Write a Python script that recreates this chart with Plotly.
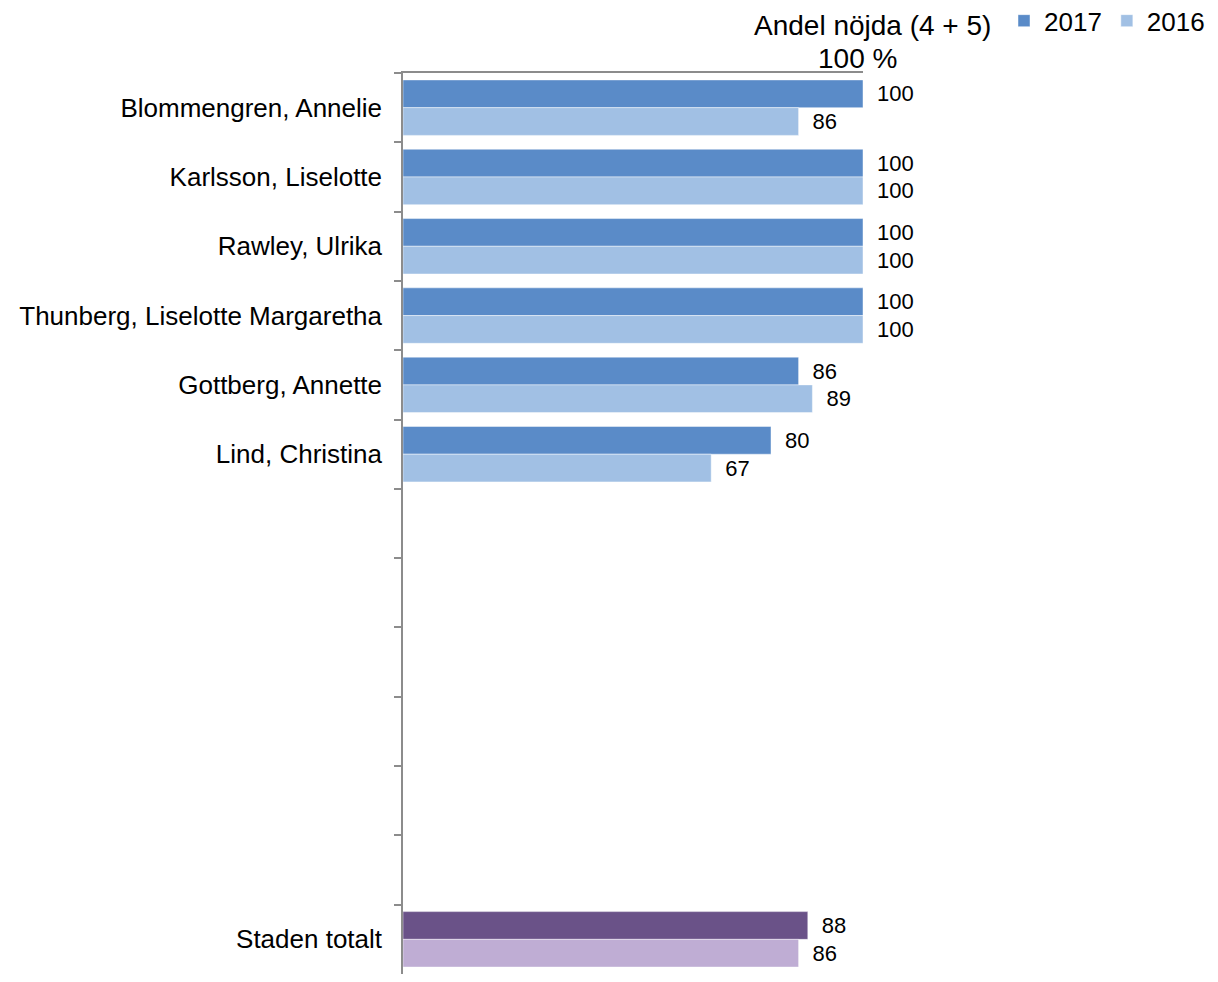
import plotly.graph_objects as go

categories = [
    "Blommengren, Annelie",
    "Karlsson, Liselotte",
    "Rawley, Ulrika",
    "Thunberg, Liselotte Margaretha",
    "Gottberg, Annette",
    "Lind, Christina",
    " ", "  ", "   ", "    ", "     ", "      ",
    "Staden totalt",
]
names = [c for c in categories if c.strip()]
values_2017 = [100, 100, 100, 100, 86, 80, 88]
values_2016 = [86, 100, 100, 100, 89, 67, 86]

blue_2017 = "#5A8BC8"
blue_2016 = "#A1C0E4"
purple_2017 = "#6A5288"
purple_2016 = "#BFADD4"
colors_2017 = [purple_2017 if n == "Staden totalt" else blue_2017 for n in names]
colors_2016 = [purple_2016 if n == "Staden totalt" else blue_2016 for n in names]

FONT = "Liberation Sans, Arial, sans-serif"

fig = go.Figure()
for label, vals, cols in [("2017", values_2017, colors_2017), ("2016", values_2016, colors_2016)]:
    fig.add_trace(go.Bar(
        name=label, y=names, x=vals, orientation="h",
        marker=dict(color=cols, line=dict(color="rgba(255,255,255,0.45)", width=1)),
        text=[str(v) for v in vals], texttemplate="\u2002%{text}", textposition="outside",
        textfont=dict(size=22, color="black", family=FONT),
        cliponaxis=False, constraintext="none",
    ))

fig.update_layout(
    width=1202, height=966,
    margin=dict(l=395, r=347, t=65, b=0, autoexpand=False),
    paper_bgcolor="white", plot_bgcolor="white",
    barmode="group", bargap=0.2, bargroupgap=0,
    font=dict(family=FONT, color="black"),
    legend=dict(
        orientation="h", x=1.0, xref="container", xanchor="right",
        y=1.058, yref="paper", yanchor="middle",
        font=dict(size=26, family=FONT), traceorder="normal",
        itemwidth=30, tracegroupgap=0,
    ),
    showlegend=True,
)
fig.update_xaxes(
    side="top", range=[0, 100], showgrid=False, zeroline=False, automargin=False,
    showline=True, linecolor="#8C8C8C", linewidth=1.5,
    showticklabels=False, ticks="",
)
fig.update_yaxes(
    type="category", categoryorder="array", categoryarray=categories,
    range=[len(categories) - 0.5, -0.5], automargin=False,
    showgrid=False, zeroline=False,
    showline=True, linecolor="#8C8C8C", linewidth=1.5,
    ticks="outside", tickson="boundaries", ticklen=7, tickcolor="#8C8C8C", tickwidth=1.5,
    tickfont=dict(size=26, family=FONT, color="black"),
    ticklabelstandoff=14,
)
fig.add_annotation(
    text="Andel nöjda (4 + 5)", xref="paper", yref="paper",
    x=1.02, y=1.053, xanchor="center", yanchor="middle",
    showarrow=False, font=dict(size=28, family=FONT, color="black"),
)
fig.add_annotation(
    text="100 %", xref="paper", yref="paper",
    x=0.987, y=1.0165, xanchor="center", yanchor="middle",
    showarrow=False, font=dict(size=28, family=FONT, color="black"),
)

fig.write_html("out.html")
